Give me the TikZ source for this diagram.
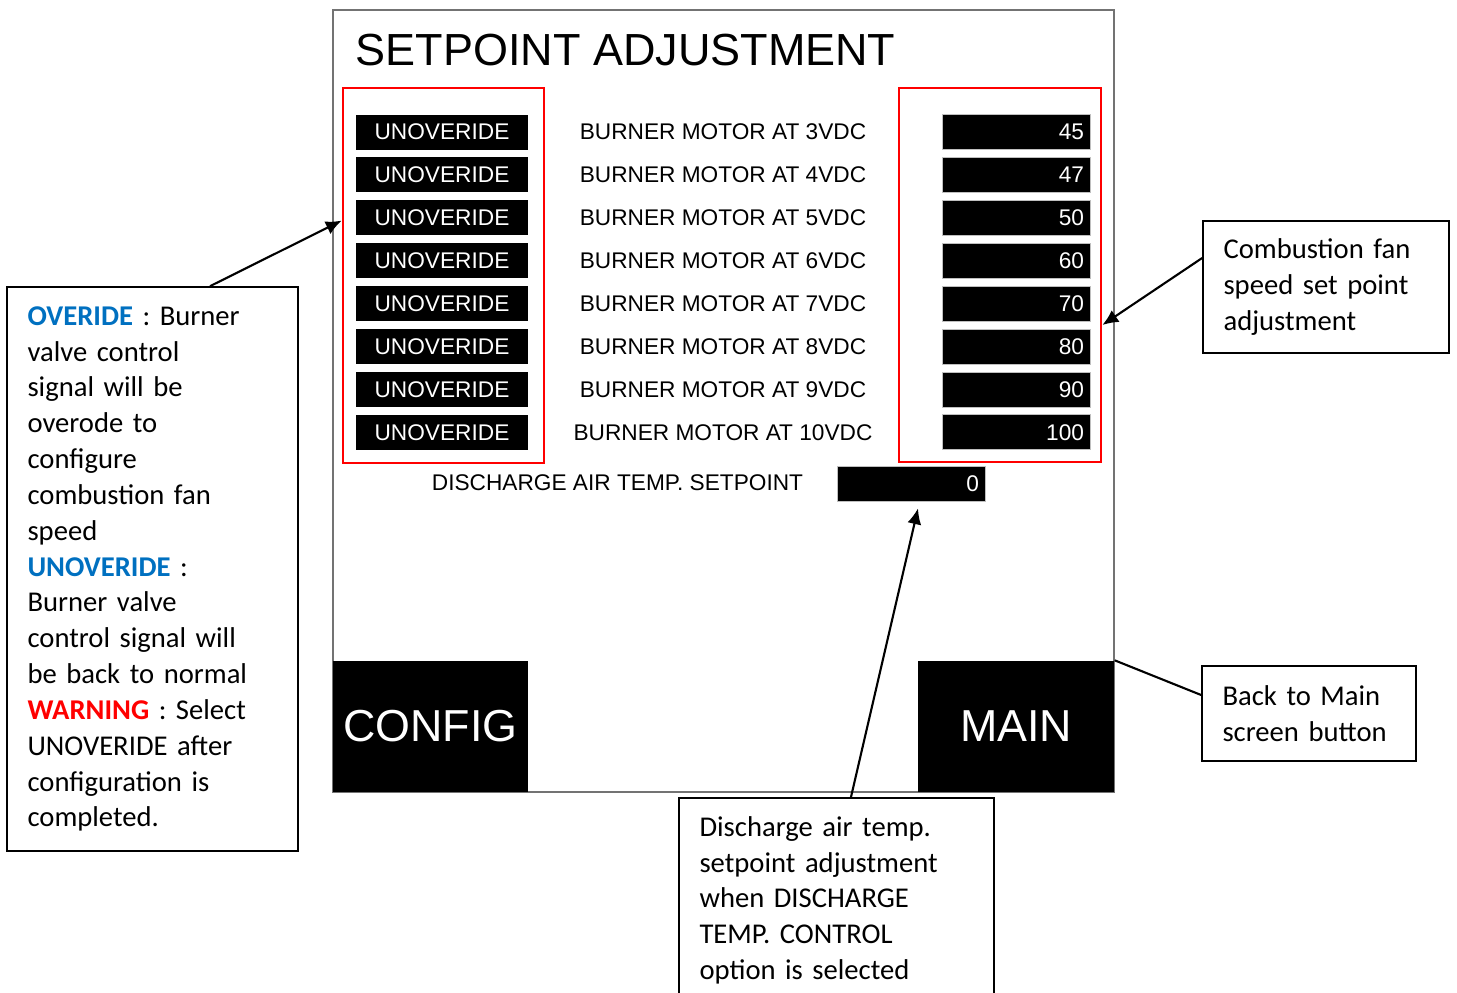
\documentclass[tikz,border=0pt]{standalone}
\usepackage{fontspec}
\setmainfont{Carlito}
\newfontfamily\screenfont{Liberation Sans}
\usetikzlibrary{arrows.meta, positioning}
\definecolor{noteblue}{RGB}{0,112,192}
\newcommand{\rowgap}{42.9}

\begin{document}
\begin{tikzpicture}[x=0.02cm, y=-0.02cm, style=thick]
    \tikzset{
        redbox/.style={draw=red, line width=1.6pt},
        btn/.style={fill=black, text=white, minimum width=3.44cm, minimum height=0.7cm, inner sep=0pt,
            font=\screenfont\fontsize{12.9}{15}\selectfont},
        valbox/.style={fill=black, draw=black!25, line width=0.4pt, text=white, text width=2.72cm, align=right,
            inner xsep=0.12cm, inner ysep=0pt, minimum height=0.7cm,
            font=\screenfont\fontsize{12.9}{15}\selectfont},
        lbl/.style={inner sep=0pt, font=\screenfont\fontsize{12.9}{15}\selectfont},
        bigbtn/.style={fill=black, text=white, minimum height=2.62cm, inner sep=0pt,
            font=\screenfont\fontsize{25.5}{30}\selectfont},
        note/.style={draw, line width=1pt, inner xsep=0.41cm, align=left,
            font=\fontsize{16.3}{20.4}\selectfont},
        callout/.style={line width=1.2pt, -{Latex[length=9pt, width=8pt]}}
    }
    \useasboundingbox (0,0) rectangle (1457,992);
    \clip (0,0) rectangle (1457,992);

    % screen
    \draw[black!55, line width=1.1pt] (333,10) rectangle (1114,792);
    \node[anchor=west, inner sep=0pt, font=\screenfont\fontsize{25.6}{30}\selectfont] (title) at (355,50) {SETPOINT ADJUSTMENT};

    \node[redbox, minimum width=4.02cm, minimum height=7.5cm] (ovbox) at (443.5,275.5) {};
    \node[redbox, minimum width=4.04cm, minimum height=7.48cm] (spbox) at (1000,275) {};

    \foreach \v [count=\i, evaluate=\i as \volt using int(\i+2)] in {45,47,50,60,70,80,90,100} {
        \node[btn] (ov\i) at (442,{132+(\i-1)*\rowgap}) {UNOVERIDE};
        \node[lbl] (mot\i) at (723,{132+(\i-1)*\rowgap}) {BURNER MOTOR AT \volt VDC};
        \node[valbox] (sp\i) at (1016,{132+(\i-1)*\rowgap}) {\v};
    }

    \node[lbl] (dlbl) at (617.5,483) {DISCHARGE AIR TEMP. SETPOINT};
    \node[valbox] (dval) at (911,483.5) {0};

    \node[bigbtn, minimum width=3.9cm] (cfgbtn) at (430.5,726.5) {CONFIG};
    \node[bigbtn, minimum width=3.92cm] (mainbtn) at (1016,726.5) {MAIN};

    % notes
    \node[note, text width=5.0cm, minimum height=11.28cm] (ovnote) at (152.5,569)
        {\textcolor{noteblue}{\textbf{OVERIDE}} : Burner\\ valve control\\ signal will be\\ overode to\\ configure\\
         combustion fan\\ speed\\ \textcolor{noteblue}{\textbf{UNOVERIDE}} :\\ Burner valve\\ control signal will\\
         be back to normal\\ \textcolor{red}{\textbf{WARNING}} : Select\\ UNOVERIDE after\\ configuration is\\ completed.};
    \node[note, text width=4.1cm, minimum height=2.64cm] (spnote) at (1326,287)
        {Combustion fan\\ speed set point\\ adjustment};
    \node[note, text width=3.46cm, minimum height=1.9cm] (backnote) at (1309,713.5)
        {Back to Main\\ screen button};
    \node[note, text width=5.48cm, anchor=north, inner ysep=0.37cm] (dnote) at (836.5,797)
        {Discharge air temp.\\ setpoint adjustment\\ when DISCHARGE\\ TEMP. CONTROL\\ option is selected};

    \draw[callout] ([xshift=1.15cm]ovnote.north) -- ([yshift=-2.68cm]ovbox.north west);
    \draw[callout] ([yshift=0.58cm]spnote.west) -- ([yshift=-1cm]spbox.east);
    \draw[line width=1.2pt] (mainbtn.north east) -- ([yshift=0.37cm]backnote.west);
    \draw[callout] ([xshift=0.29cm]dnote.north) -- ([xshift=0.14cm, yshift=-0.14cm]dval.south);
\end{tikzpicture}
\end{document}
